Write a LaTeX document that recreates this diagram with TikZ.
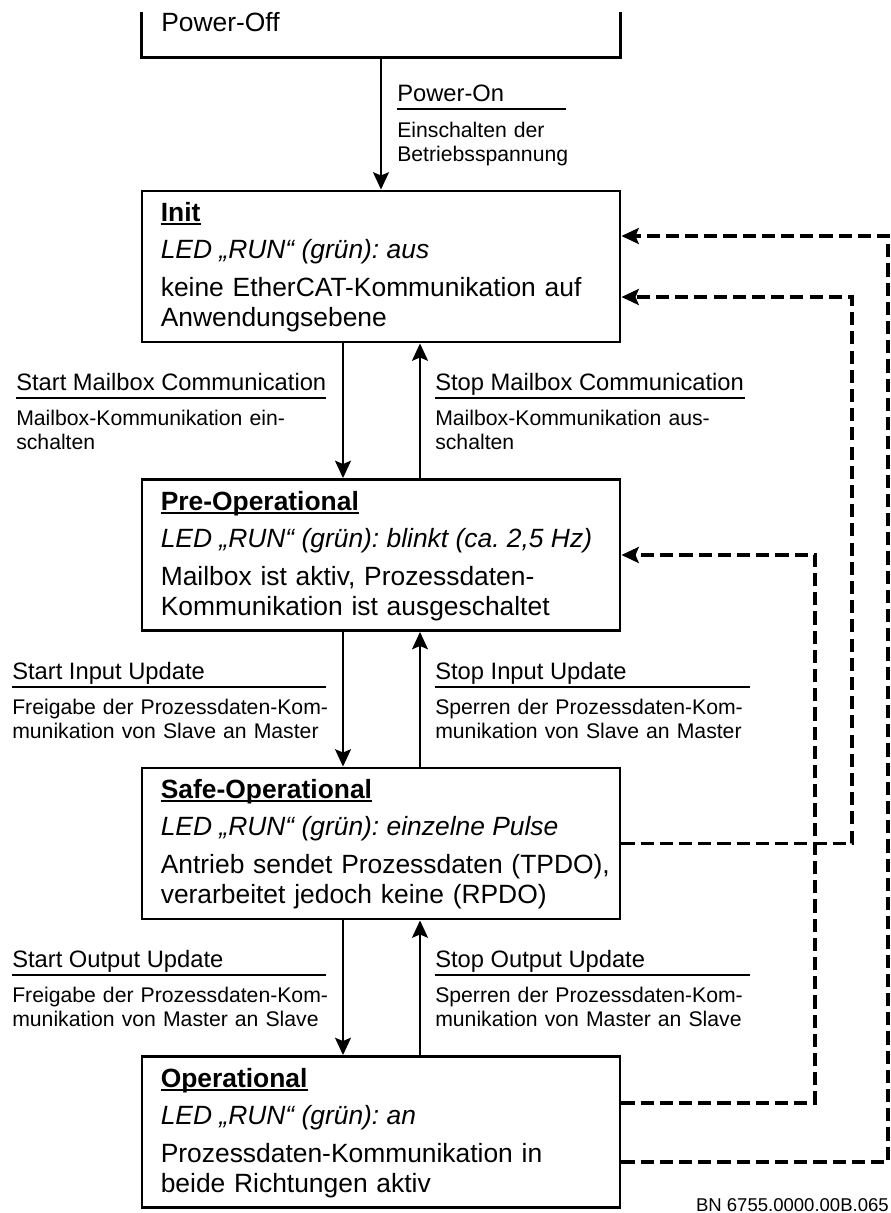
\documentclass[tikz,border=0pt]{standalone}
\usepackage{fontspec}
\setmainfont{Liberation Sans}
\usepackage{tikz}
\usetikzlibrary{arrows.meta, positioning, calc}
\frenchspacing
\tikzset{
	box_line/.style={draw=black, line width=2.2pt},
	off_frame/.style={rectangle, draw=none, minimum width=358.5pt, minimum height=33.75pt, inner sep=0pt},
	state_box/.style={rectangle, draw=black, line width=2.2pt, minimum width=358.5pt, minimum height=113.25pt, inner sep=0pt},
	state_head/.style={anchor=base west, inner sep=0pt, font=\fontsize{19.8}{22.5}\selectfont\bfseries},
	state_led/.style={anchor=base west, inner sep=0pt, font=\fontsize{19.8}{22.5}\selectfont\itshape},
	state_body/.style={anchor=base west, inner sep=0pt, text width=355pt, align=left, font=\fontsize{19.8}{22.5}\selectfont},
	head_rule/.style={draw=black, line width=1.5pt},
	trans_title/.style={anchor=base west, inner sep=0pt, font=\fontsize{17.8}{20}\selectfont},
	trans_note/.style={anchor=base west, inner sep=0pt, text width=280pt, align=left, font=\fontsize{15.9}{18}\selectfont},
	title_rule/.style={draw=black, line width=1.5pt},
	trans/.style={->, draw=black, line width=1.5pt},
	feedback/.style={->, draw=black, line width=2.4pt, dash pattern=on 9.8pt off 4.6pt},
	doc_id/.style={anchor=base east, inner sep=0pt, font=\fontsize{13.9}{16}\selectfont}
}

\begin{document}
\begin{tikzpicture}[x=0.75pt, y=-0.75pt, >={Stealth[length=13pt, width=12pt, inset=2.5pt]}]
	\useasboundingbox (0,0) rectangle (890,1213);
	% Power-Off, cut at the top
	\node[off_frame] (off) at (381,34.5) {};
	\draw[box_line] (off.north west) |- (off.south) -| (off.north east);
	\node[anchor=base west, inner sep=0pt, font=\fontsize{19.8}{22.5}\selectfont] (off_text) at (161,32) {Power-Off};
	
	% states
	\node[state_box] (init) at (381,266.5) {};
	\node[state_head] (init_head) at ($(init.north west)+(20,32)$) {Init};
	\node[state_led] (init_led) at ($(init.north west)+(20,69)$) {LED „RUN“ (grün): aus};
	\node[state_body] (init_body) at ($(init.north west)+(20,107)$) {keine EtherCAT-Kommunikation auf\\Anwendungsebene};
	
	\node[state_box] (preop) at (381,555) {};
	\node[state_head] (preop_head) at ($(preop.north west)+(20,32)$) {Pre-Operational};
	\node[state_led] (preop_led) at ($(preop.north west)+(20,69)$) {LED „RUN“ (grün): blinkt (ca. 2,5 Hz)};
	\node[state_body] (preop_body) at ($(preop.north west)+(20,107)$) {Mailbox ist aktiv, Prozessdaten-\\Kommunikation ist ausgeschaltet};
	
	\node[state_box] (safeop) at (381,843.5) {};
	\node[state_head] (safeop_head) at ($(safeop.north west)+(20,32)$) {Safe-Operational};
	\node[state_led] (safeop_led) at ($(safeop.north west)+(20,69)$) {LED „RUN“ (grün): einzelne Pulse};
	\node[state_body] (safeop_body) at ($(safeop.north west)+(20,107)$) {Antrieb sendet Prozessdaten (TPDO),\\verarbeitet jedoch keine (RPDO)};
	
	\node[state_box] (op) at (381,1132) {};
	\node[state_head] (op_head) at ($(op.north west)+(20,32)$) {Operational};
	\node[state_led] (op_led) at ($(op.north west)+(20,69)$) {LED „RUN“ (grün): an};
	\node[state_body] (op_body) at ($(op.north west)+(20,107)$) {Prozessdaten-Kommunikation in\\beide Richtungen aktiv};
	
	% underlined state names
	\draw[head_rule] ([yshift=-2.2pt]init_head.base west) -- ([yshift=-2.2pt]init_head.base east);
	\draw[head_rule] ([yshift=-2.2pt]preop_head.base west) -- ([yshift=-2.2pt]preop_head.base east);
	\draw[head_rule] ([yshift=-2.2pt]safeop_head.base west) -- ([yshift=-2.2pt]safeop_head.base east);
	\draw[head_rule] ([yshift=-2.2pt]op_head.base west) -- ([yshift=-2.2pt]op_head.base east);
	
	% Power-On
	\draw[trans] (off.south) -- (init.north);
	\node[trans_title] (power_on) at (397,101) {Power-On};
	\draw[title_rule] (397,109) -- (566,109);
	\node[trans_note] (power_on_note) at (397,137) {Einschalten der\\Betriebsspannung};
	
	% transitions down / up
	\draw[trans] ($(init.south)+(-38,0)$) -- ($(preop.north)+(-38,0)$);
	\draw[trans] ($(preop.north)+(39,0)$) -- ($(init.south)+(39,0)$);
	\draw[trans] ($(preop.south)+(-38,0)$) -- ($(safeop.north)+(-38,0)$);
	\draw[trans] ($(safeop.north)+(39,0)$) -- ($(preop.south)+(39,0)$);
	\draw[trans] ($(safeop.south)+(-38,0)$) -- ($(op.north)+(-38,0)$);
	\draw[trans] ($(op.north)+(39,0)$) -- ($(safeop.south)+(39,0)$);
	
	\node[trans_title] (start_mb) at (16,390) {Start Mailbox Communication};
	\draw[title_rule] (16,398) -- (326,398);
	\node[trans_note] (start_mb_note) at (16,425) {Mailbox-Kommunikation ein-\\schalten};
	\node[trans_title] (stop_mb) at (435,390) {Stop Mailbox Communication};
	\draw[title_rule] (435,398) -- (745,398);
	\node[trans_note] (stop_mb_note) at (435,425) {Mailbox-Kommunikation aus-\\schalten};
	
	\node[trans_title] (start_in) at (12,679) {Start Input Update};
	\draw[title_rule] (12,687) -- (326,687);
	\node[trans_note] (start_in_note) at (12,714) {Freigabe der Prozessdaten-Kom-\\munikation von Slave an Master};
	\node[trans_title] (stop_in) at (435,679) {Stop Input Update};
	\draw[title_rule] (435,687) -- (750,687);
	\node[trans_note] (stop_in_note) at (435,714) {Sperren der Prozessdaten-Kom-\\munikation von Slave an Master};
	
	\node[trans_title] (start_out) at (12,967) {Start Output Update};
	\draw[title_rule] (12,975) -- (326,975);
	\node[trans_note] (start_out_note) at (12,1002) {Freigabe der Prozessdaten-Kom-\\munikation von Master an Slave};
	\node[trans_title] (stop_out) at (435,967) {Stop Output Update};
	\draw[title_rule] (435,975) -- (750,975);
	\node[trans_note] (stop_out_note) at (435,1002) {Sperren der Prozessdaten-Kom-\\munikation von Master an Slave};
	
	% return paths
	\coordinate (bus_pre) at (815,0);
	\coordinate (bus_safe) at (852,0);
	\coordinate (bus_op) at (888,0);
	\draw[feedback] ($(op.east)+(0,-29)$) -| (bus_pre |- preop.east) -- (preop.east);
	\draw[feedback] (safeop.east) -| ($(bus_safe |- init.east)+(0,30.5)$) -- ($(init.east)+(0,30.5)$);
	\draw[feedback] ($(op.east)+(0,30)$) -| ($(bus_op |- init.east)+(0,-30.5)$) -- ($(init.east)+(0,-30.5)$);
	
	\node[doc_id] (doc_no) at (889,1211) {BN 6755.0000.00B.065};
\end{tikzpicture}
\end{document}
